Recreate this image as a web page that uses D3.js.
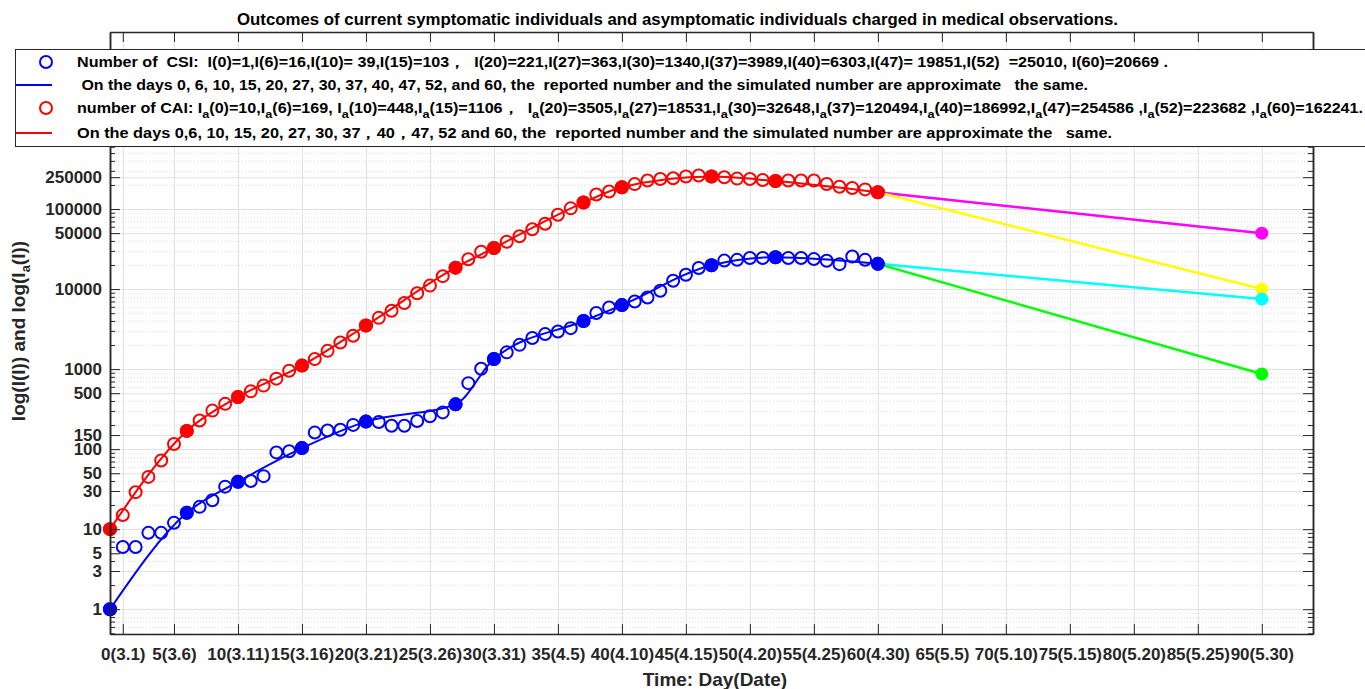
<!DOCTYPE html>
<html>
<head>
<meta charset="utf-8">
<script src="https://cdn.jsdelivr.net/npm/d3@7"></script>
<style>
  body { margin: 0; background: #fff; }
  svg { display: block; font-family: Arial, "Liberation Sans", sans-serif; }
  .tick text { font-weight: bold; fill: #262626; }
</style>
</head>
<body>
<svg id="svg" width="1365" height="689"></svg>
<script>
// reported daily numbers, index = day 0..60
const csiDaily = [1, 6, 6, 9, 9, 12, 16, 19, 23, 34, 39, 40, 46, 91, 94, 103, 161, 171, 175, 201,
  221, 218, 196, 196, 225, 257, 288, 363, 668, 1010, 1340, 1620, 2010, 2450, 2740, 2950, 3250, 3989,
  5030, 5880, 6303, 7000, 7850, 9540, 12700, 15100, 18300, 19851, 22700, 23200, 24500, 24500, 25010,
  24500, 24500, 23700, 22600, 20500, 25500, 23200, 20669];
const caiDaily = [10, 15, 29, 45, 72, 116, 169, 228, 303, 368, 448, 527, 622, 760, 955, 1106, 1333,
  1690, 2150, 2610, 3505, 4370, 5360, 6690, 8850, 11050, 14500, 18531, 23600, 29300, 32648, 39000,
  45700, 55800, 65400, 85000, 102000, 120494, 152000, 166000, 186992, 205000, 227000, 237000, 243000,
  255000, 263000, 254586, 250000, 240000, 237000, 231000, 223682, 227000, 227000, 227000, 206000,
  190000, 183000, 176000, 162241];

// simulated values on the matching days
const keyDays = [0, 6, 10, 15, 20, 27, 30, 37, 40, 47, 52, 60];
const csiKey = [1, 16, 39, 103, 221, 363, 1340, 3989, 6303, 19851, 25010, 20669];
const caiKey = [10, 169, 448, 1106, 3505, 18531, 32648, 120494, 186992, 254586, 223682, 162241];

// predictions from day 60 to day 90
const projDays = [60, 90];
const projMagenta = [162241, 50000];
const projYellow = [162241, 10000];
const projCyan = [20669, 7500];
const projGreen = [20669, 870];

const xTicks = [1, 5, 10, 15, 20, 25, 30, 35, 40, 45, 50, 55, 60, 65, 70, 75, 80, 85, 90];
const xTickLabels = ["0(3.1)", "5(3.6)", "10(3.11)", "15(3.16)", "20(3.21)", "25(3.26)", "30(3.31)",
  "35(4.5)", "40(4.10)", "45(4.15)", "50(4.20)", "55(4.25)", "60(4.30)", "65(5.5)", "70(5.10)",
  "75(5.15)", "80(5.20)", "85(5.25)", "90(5.30)"];
const yTicks = [1, 3, 5, 10, 30, 50, 100, 150, 500, 1000, 10000, 50000, 100000, 250000];

const legendRows = [
  "Number of  CSI:  I(0)=1,I(6)=16,I(10)= 39,I(15)=103，  I(20)=221,I(27)=363,I(30)=1340,I(37)=3989,I(40)=6303,I(47)= 19851,I(52)  =25010, I(60)=20669 .",
  " On the days 0, 6, 10, 15, 20, 27, 30, 37, 40, 47, 52, and 60, the  reported number and the simulated number are approximate   the same.",
  "number of CAI: I_a(0)=10,I_a(6)=169, I_a(10)=448,I_a(15)=1106，  I_a(20)=3505,I_a(27)=18531,I_a(30)=32648,I_a(37)=120494,I_a(40)=186992,I_a(47)=254586 ,I_a(52)=223682 ,I_a(60)=162241.",
  "On the days 0,6, 10, 15, 20, 27, 30, 37，40，47, 52 and 60, the  reported number and the simulated number are approximate the   same."
];

const L = 110, R = 1313, T = 32, B = 634;
const svg = d3.select("#svg");

const x = d3.scaleLinear().domain([0, 94]).range([L, R]);
const y = d3.scaleLog().domain([0.49, 1.63e7]).range([B, T]);

// minor log ticks
const minor = [];
for (let e = -1; e <= 7; e++) {
  for (let k = 1; k <= 9; k++) {
    const v = k * Math.pow(10, e);
    if (v >= 0.49 && v <= 1.63e7 && !yTicks.includes(v)) minor.push(v);
  }
}

// grid
const grid = svg.append("g");
grid.append("g").attr("transform", `translate(${L},0)`)
  .call(d3.axisLeft(y).tickValues(minor).tickSize(-(R - L)).tickFormat(""))
  .call(g => g.select(".domain").remove())
  .selectAll("line").attr("stroke", "#d4d4d4").attr("stroke-dasharray", "1,2").attr("stroke-width", 0.8);
grid.append("g").attr("transform", `translate(${L},0)`)
  .call(d3.axisLeft(y).tickValues(yTicks).tickSize(-(R - L)).tickFormat(""))
  .call(g => g.select(".domain").remove())
  .selectAll("line").attr("stroke", "#e0e0e0").attr("stroke-width", 1);
grid.append("g").attr("transform", `translate(0,${B})`)
  .call(d3.axisBottom(x).tickValues(xTicks).tickSize(-(B - T)).tickFormat(""))
  .call(g => g.select(".domain").remove())
  .selectAll("line").attr("stroke", "#e0e0e0").attr("stroke-width", 1);

// lines
const line = d3.line().x(d => x(d[0])).y(d => y(d[1]));
const smooth = d3.line().x(d => x(d[0])).y(d => y(d[1])).curve(d3.curveMonotoneX);

const data = svg.append("g");
const proj = [[projMagenta, "#ff00ff"], [projYellow, "#ffff00"], [projCyan, "#00ffff"], [projGreen, "#00ff00"]];
proj.forEach(([vals, c]) => {
  const pts = projDays.map((d, i) => [d, vals[i]]);
  data.append("path").attr("d", line(pts)).attr("fill", "none").attr("stroke", c).attr("stroke-width", 2.5);
  data.append("circle").attr("cx", x(90)).attr("cy", y(vals[1])).attr("r", 6.5).attr("fill", c);
});

[[csiDaily, csiKey, "#0000ff"], [caiDaily, caiKey, "#ff0000"]].forEach(([daily, key, c]) => {
  const kp = keyDays.map((d, i) => [d, key[i]]);
  data.append("path").attr("d", smooth(kp)).attr("fill", "none").attr("stroke", c).attr("stroke-width", 2);
  data.selectAll(null).data(daily).enter().append("circle")
    .attr("cx", (d, i) => x(i)).attr("cy", d => y(d)).attr("r", 6)
    .attr("fill", "none").attr("stroke", c).attr("stroke-width", 2);
  data.selectAll(null).data(kp).enter().append("circle")
    .attr("cx", d => x(d[0])).attr("cy", d => y(d[1])).attr("r", 7).attr("fill", c);
});

// axes
const axisStyle = g => {
  g.select(".domain").attr("stroke", "#262626").attr("stroke-width", 1.5);
  g.selectAll(".tick line").attr("stroke", "#262626");
};
svg.append("g").attr("transform", `translate(${L},0)`)
  .call(d3.axisLeft(y).tickValues(minor).tickSize(-5).tickSizeOuter(0).tickFormat(""))
  .call(axisStyle);
svg.append("g").attr("transform", `translate(${R},0)`)
  .call(d3.axisRight(y).tickValues(minor).tickSize(-5).tickSizeOuter(0).tickFormat(""))
  .call(axisStyle);
svg.append("g").attr("transform", `translate(${L},0)`)
  .call(d3.axisLeft(y).tickValues(yTicks).tickSize(-10).tickSizeOuter(0).tickPadding(8).tickFormat(d3.format("d")))
  .call(axisStyle)
  .selectAll("text").attr("font-size", 17);
svg.append("g").attr("transform", `translate(${R},0)`)
  .call(d3.axisRight(y).tickValues(yTicks).tickSize(-10).tickSizeOuter(0).tickFormat(""))
  .call(axisStyle);
svg.append("g").attr("transform", `translate(0,${B})`)
  .call(d3.axisBottom(x).tickValues(xTicks).tickSize(-10).tickSizeOuter(0).tickPadding(14)
    .tickFormat((d, i) => xTickLabels[i]))
  .call(axisStyle)
  .selectAll("text").attr("font-size", 17);
svg.append("g").attr("transform", `translate(0,${T})`)
  .call(d3.axisBottom(x).tickValues(xTicks).tickSize(10).tickSizeOuter(0).tickFormat(""))
  .call(axisStyle);

// title and axis labels
svg.append("text").attr("x", 237).attr("y", 25)
  .attr("font-size", 16.5).attr("font-weight", "bold").attr("fill", "#000")
  .attr("textLength", 881).attr("lengthAdjust", "spacingAndGlyphs")
  .text("Outcomes of current symptomatic individuals and asymptomatic individuals charged in medical observations.");
svg.append("text").attr("x", 715).attr("y", 686).attr("text-anchor", "middle")
  .attr("font-size", 19).attr("font-weight", "bold").attr("fill", "#262626")
  .text("Time: Day(Date)");
const yl = svg.append("text").attr("transform", "translate(25,331) rotate(-90)").attr("text-anchor", "middle")
  .attr("font-size", 19).attr("font-weight", "bold").attr("fill", "#262626");
yl.append("tspan").text("log(I(l)) and log(I");
yl.append("tspan").attr("dy", 5).attr("font-size", 13).text("a");
yl.append("tspan").attr("dy", -5).text("(l))");

// legend
const lg = svg.append("g");
lg.append("rect").attr("x", 15.5).attr("y", 49.5).attr("width", 1400).attr("height", 97)
  .attr("fill", "#fff").attr("stroke", "#262626").attr("stroke-width", 1);
const rowY = [62, 85, 108, 133];
const rowX = [77, 77, 77, 77];
const rowEnd = [1168, 1088, 1363, 1112];
lg.append("circle").attr("cx", 46).attr("cy", rowY[0]).attr("r", 6).attr("fill", "none").attr("stroke", "#0000ff").attr("stroke-width", 2);
lg.append("line").attr("x1", 16).attr("x2", 52).attr("y1", rowY[1]).attr("y2", rowY[1]).attr("stroke", "#0000ff").attr("stroke-width", 2);
lg.append("circle").attr("cx", 46).attr("cy", rowY[2]).attr("r", 6).attr("fill", "none").attr("stroke", "#ff0000").attr("stroke-width", 2);
lg.append("line").attr("x1", 16).attr("x2", 52).attr("y1", rowY[3]).attr("y2", rowY[3]).attr("stroke", "#ff0000").attr("stroke-width", 2);

legendRows.forEach((s, r) => {
  const t = lg.append("text").attr("x", rowX[r]).attr("y", rowY[r] + 5)
    .attr("font-size", 14).attr("font-weight", "bold").attr("fill", "#000")
    .attr("textLength", rowEnd[r] - rowX[r]).attr("lengthAdjust", "spacingAndGlyphs")
    .style("white-space", "pre");
  const parts = s.split("_a");
  parts.forEach((p, i) => {
    if (i > 0) {
      t.append("tspan").attr("dy", 5).attr("font-size", 11).text("a");
      t.append("tspan").attr("dy", -5).text(p);
    } else {
      t.append("tspan").text(p);
    }
  });
});
</script>
</body>
</html>
